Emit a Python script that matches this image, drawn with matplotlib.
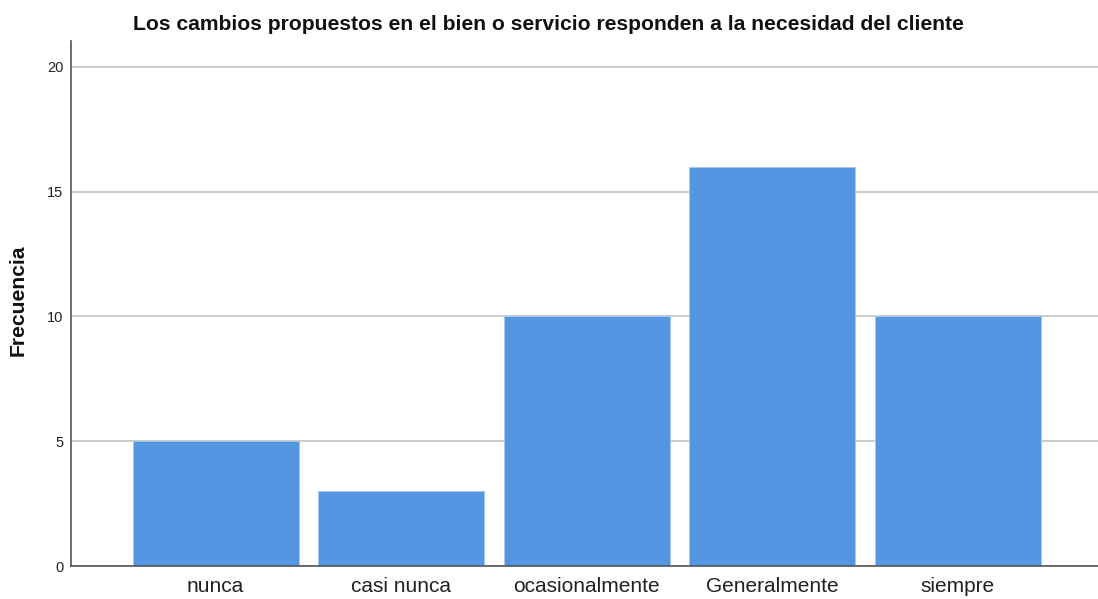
import matplotlib
matplotlib.use("Agg")
import matplotlib.pyplot as plt

categories = ["nunca", "casi nunca", "ocasionalmente", "Generalmente", "siempre"]
frequencies = [5, 3, 10, 16, 10]
yticks = [0, 5, 10, 15, 20]

plt.rcParams['font.family'] = ['Liberation Sans', 'DejaVu Sans']

fig = plt.figure(figsize=(10.98, 5.99), dpi=100)
ax = fig.add_axes([71/1098, 33/599, 1 - 71/1098, (566-41)/599])

x = list(range(len(categories)))
ax.bar(x, frequencies, width=0.895, color="#5596E3", edgecolor="#a9c8f0", linewidth=0.6, zorder=3)
ax.set_xlim(-0.78, 4.757)
ax.set_ylim(0, 21.04)
ax.set_yticks(yticks)
ax.set_xticks(x)
ax.set_xticklabels(categories, fontsize=15, color="#222222")
ax.tick_params(axis='x', length=0, pad=8)
ax.tick_params(axis='y', length=0, pad=5.5, labelsize=10.5, labelcolor="#222222")
ax.yaxis.grid(True, color="#c8c8c8", linewidth=1.3, zorder=1)
ax.set_axisbelow(True)
for s in ["top", "right"]:
    ax.spines[s].set_visible(False)
ax.spines["left"].set_color("#555555")
ax.spines["bottom"].set_color("#555555")
ax.spines["left"].set_linewidth(1.2)
ax.spines["bottom"].set_linewidth(1.2)
ax.spines["left"].set_zorder(4)
ax.spines["bottom"].set_zorder(4)

fig.text(548/1098, 1 - 24/599, "Los cambios propuestos en el bien o servicio responden a la necesidad del cliente",
         ha="center", va="center", fontsize=15.2, fontweight="bold", color="#111111")
fig.text(18/1098, 1 - 300/599, "Frecuencia", rotation=90, ha="center", va="center",
         fontsize=15.2, fontweight="bold", color="#111111")

fig.savefig("out.png", dpi=100)
